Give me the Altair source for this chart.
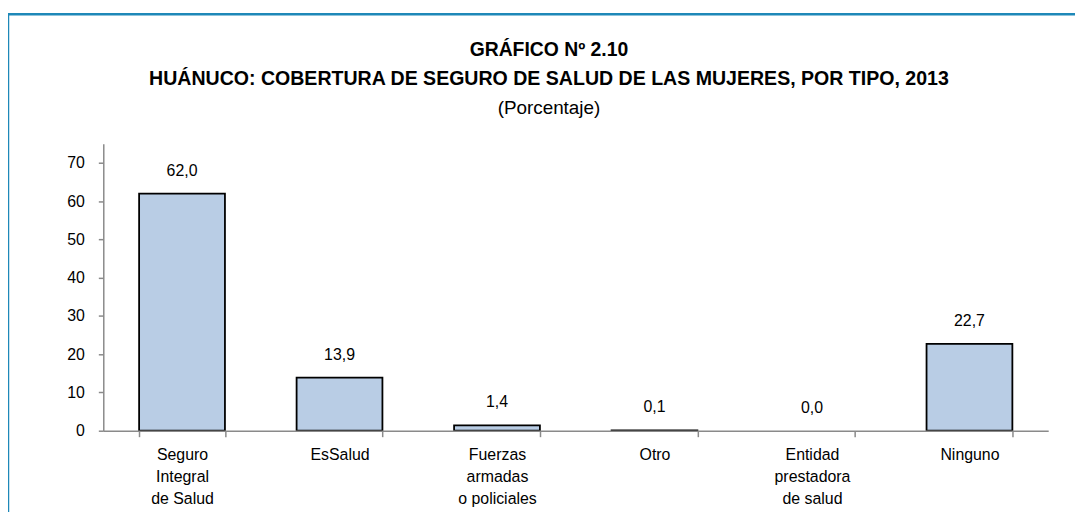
import altair as alt
import pandas as pd

categories = ["Seguro|Integral|de Salud", "EsSalud", "Fuerzas|armadas|o policiales",
              "Otro", "Entidad|prestadora|de salud", "Ninguno"]
values = [62.0, 13.9, 1.4, 0.1, 0.0, 22.7]
y_ticks = [0, 10, 20, 30, 40, 50, 60, 70]
title_lines = ["GRÁFICO Nº 2.10",
               "HUÁNUCO: COBERTURA DE SEGURO DE SALUD DE LAS MUJERES, POR TIPO, 2013",
               "(Porcentaje)"]

FONT = "Liberation Sans, Arial, sans-serif"

df = pd.DataFrame({
    "cat": categories,
    "val": values,
    "lbl": [f"{v:.1f}".replace(".", ",") for v in values],
})

x_enc = alt.X("cat:N", sort=categories, title=None,
              scale=alt.Scale(paddingInner=0.455, paddingOuter=0.2275),
              axis=alt.Axis(labelExpr="split(datum.label, '|')", labelAngle=0,
                            labelFont=FONT, labelFontSize=16, labelColor="#000",
                            labelLineHeight=22, labelPadding=10, labelBaseline="top",
                            domainColor="#8a8a8a", domainWidth=1.5,
                            tickColor="#8a8a8a", tickWidth=1.5, tickSize=6,
                            tickBand="extent", zindex=1))
y_enc = alt.Y("val:Q", title=None,
              scale=alt.Scale(domain=[0, 75], nice=False),
              axis=alt.Axis(values=y_ticks, grid=False, labelFont=FONT,
                            labelFontSize=16, labelColor="#000", labelPadding=14,
                            domainColor="#8a8a8a", domainWidth=1.5,
                            tickColor="#8a8a8a", tickWidth=1.5, tickSize=5))

base = alt.Chart(df)
bars = base.mark_bar(fill="#B9CDE5", stroke="#000", strokeWidth=1.8).encode(
    x=x_enc, y=y_enc,
    strokeOpacity=alt.condition("datum.val == 0", alt.value(0), alt.value(1)))
labels = base.mark_text(font=FONT, fontSize=16, baseline="bottom", dy=-15, color="#000").encode(
    x=alt.X("cat:N", sort=categories), y="val:Q", text="lbl:N")

one = pd.DataFrame({"k": [0]})
border_left = alt.Chart(one).mark_rule(color="#1E88B8", strokeWidth=2.5).encode(
    x=alt.value(-96), y=alt.value(-130.5), y2=alt.value(400))
border_top = alt.Chart(one).mark_rule(color="#1E88B8", strokeWidth=2.5).encode(
    x=alt.value(-97), x2=alt.value(1000), y=alt.value(-130.5))

t1 = alt.Chart(one).mark_text(font=FONT, fontSize=19.5, fontWeight="bold", color="#000",
                              align="center", baseline="alphabetic").encode(
    x=alt.value(449), y=alt.value(-89), text=alt.value(title_lines[0]))
t2 = alt.Chart(one).mark_text(font=FONT, fontSize=19.7, fontWeight="bold", color="#000",
                              align="center", baseline="alphabetic").encode(
    x=alt.value(449), y=alt.value(-59), text=alt.value(title_lines[1]))
t3 = alt.Chart(one).mark_text(font=FONT, fontSize=19, color="#000",
                              align="center", baseline="alphabetic").encode(
    x=alt.value(449), y=alt.value(-30), text=alt.value(title_lines[2]))

chart = alt.layer(border_left, border_top, t1, t2, t3, bars, labels).properties(
    width=952, height=289,
    padding={"left": 96, "top": 135, "right": 27, "bottom": 80},
    autosize=alt.AutoSizeParams(type="none"),
).configure_view(stroke=None)

chart.save("out.html", embed_options={"renderer": "svg", "actions": False})
